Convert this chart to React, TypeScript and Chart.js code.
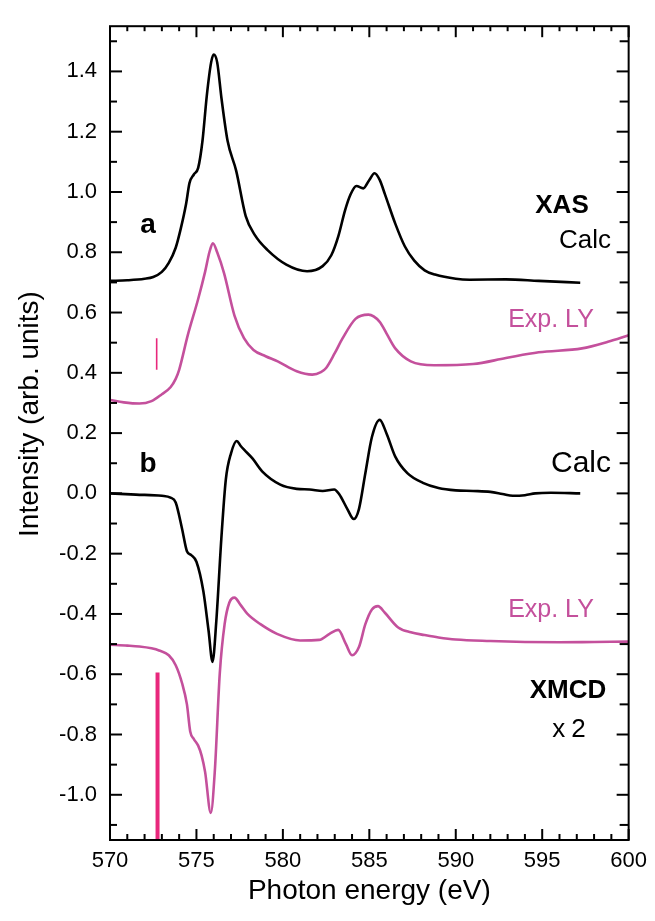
import React, { useEffect, useRef } from "react";
import { Chart, registerables } from "chart.js";

Chart.register(...registerables);

// ---------- data ----------
const xasCalcE = [570.0, 571.0, 572.0, 572.5, 573.0, 573.4, 573.8, 574.1, 574.4, 574.6, 574.85, 575.1, 575.35, 575.6, 575.85, 576.0, 576.2, 576.45, 576.8, 577.3, 577.85, 578.4, 579.1, 580.2, 581.4, 582.3, 582.8, 583.2, 583.6, 583.9, 584.25, 584.65, 585.0, 585.3, 585.6, 585.9, 586.5, 587.05, 587.6, 588.2, 588.8, 590.0, 590.8, 592.9, 594.8, 597.2];
const xasCalcI = [0.705, 0.707, 0.712, 0.718, 0.735, 0.765, 0.815, 0.88, 0.96, 1.03, 1.058, 1.08, 1.17, 1.32, 1.43, 1.456, 1.43, 1.31, 1.17, 1.07, 0.92, 0.855, 0.808, 0.759, 0.737, 0.754, 0.79, 0.852, 0.94, 0.99, 1.02, 1.012, 1.04, 1.062, 1.04, 0.993, 0.895, 0.82, 0.772, 0.74, 0.726, 0.712, 0.709, 0.71, 0.705, 0.699];

const xasExpE = [570.0, 570.8, 571.7, 572.4, 573.0, 573.5, 573.8, 574.0, 574.5, 575.1, 575.5, 575.75, 575.95, 576.2, 576.6, 577.2, 577.75, 578.3, 579.0, 579.7, 580.8, 581.7, 582.2, 582.5, 583.0, 583.45, 584.2, 584.95, 585.6, 586.0, 586.5, 587.4, 588.75, 591.0, 592.9, 594.8, 597.3, 598.8, 600.0];
const xasExpI = [0.31, 0.302, 0.298, 0.306, 0.329, 0.352, 0.38, 0.41, 0.525, 0.645, 0.735, 0.8, 0.83, 0.8, 0.73, 0.59, 0.515, 0.476, 0.455, 0.438, 0.405, 0.394, 0.402, 0.416, 0.465, 0.514, 0.579, 0.593, 0.569, 0.53, 0.481, 0.438, 0.425, 0.429, 0.449, 0.468, 0.481, 0.503, 0.525];

const xmcdCalcE = [570.0, 571.5, 573.0, 573.5, 573.8, 574.17, 574.45, 574.7, 575.0, 575.4, 575.7, 575.93, 576.15, 576.44, 576.7, 577.0, 577.33, 577.55, 577.77, 578.24, 578.8, 579.85, 580.8, 581.55, 582.3, 582.97, 583.26, 583.73, 584.1, 584.4, 584.77, 585.15, 585.6, 586.0, 586.5, 587.2, 588.1, 589.0, 590.0, 591.0, 592.0, 592.7, 593.3, 594.0, 594.6, 595.5, 597.2];
const xmcdCalcI = [0.0, -0.004, -0.008, -0.014, -0.03, -0.118, -0.192, -0.205, -0.227, -0.325, -0.455, -0.559, -0.423, -0.15, 0.046, 0.133, 0.174, 0.158, 0.144, 0.116, 0.073, 0.029, 0.015, 0.013, 0.008, 0.013, -0.003, -0.052, -0.085, -0.052, 0.067, 0.187, 0.244, 0.198, 0.122, 0.067, 0.035, 0.018, 0.01, 0.008, 0.005, -0.002, -0.008, -0.006, 0.0, 0.002, 0.0];

const xmcdExpE = [570.0, 571.0, 571.7, 572.4, 572.84, 573.4, 573.8, 574.17, 574.45, 574.64, 574.85, 575.1, 575.3, 575.5, 575.83, 576.06, 576.35, 576.63, 576.9, 577.2, 577.55, 577.95, 578.7, 579.66, 581.0, 582.1, 582.7, 583.2, 583.64, 584.0, 584.4, 584.77, 585.15, 585.5, 585.9, 586.67, 587.4, 588.2, 589.0, 590.0, 592.0, 594.0, 596.0, 598.0, 600.0];
const xmcdExpI = [-0.502, -0.505, -0.508, -0.514, -0.521, -0.537, -0.57, -0.63, -0.7, -0.79, -0.815, -0.837, -0.87, -0.924, -1.06, -0.924, -0.597, -0.434, -0.363, -0.346, -0.37, -0.4, -0.434, -0.466, -0.488, -0.486, -0.466, -0.453, -0.499, -0.537, -0.51, -0.434, -0.385, -0.374, -0.396, -0.445, -0.461, -0.47, -0.478, -0.485, -0.49, -0.493, -0.494, -0.493, -0.492];

const markSmallE = [572.7, 572.7];
const markSmallI = [0.41, 0.515];
const markBigE = [572.75, 572.75];
const markBigI = [-0.594, -1.15];

const xMajorTicks = [570, 575, 580, 585, 590, 595, 600];
const xMinorTicks = [571, 572, 573, 574, 576, 577, 578, 579, 581, 582, 583, 584, 586, 587, 588, 589, 591, 592, 593, 594, 596, 597, 598, 599];
const yMajorTicks = [-1.0, -0.8, -0.6, -0.4, -0.2, 0.0, 0.2, 0.4, 0.6, 0.8, 1.0, 1.2, 1.4];
const yMinorTicks = [-1.1, -0.9, -0.7, -0.5, -0.3, -0.1, 0.1, 0.3, 0.5, 0.7, 0.9, 1.1, 1.3, 1.5];

const xRange = [570, 600];
const yRange = [-1.15, 1.55];

const xTitle = "Photon energy (eV)";
const yTitle = "Intensity (arb. units)";

const FONT = "'Liberation Sans', Arial, Helvetica, sans-serif";
const BLACK = "#000000";
const PINK = "#c4509c";
const HOTPINK = "#e8287c";

const pts = (xs: number[], ys: number[]) => xs.map((x, i) => ({ x, y: ys[i] }));

const framePlugin = {
  id: "frameTicks",
  afterDraw(chart: any) {
    const { ctx, chartArea, scales } = chart;
    const { left, right, top, bottom } = chartArea;
    const xs = scales.x;
    const ys = scales.y;
    ctx.save();
    ctx.strokeStyle = BLACK;
    ctx.lineWidth = 2;
    ctx.lineCap = "butt";
    ctx.strokeRect(left, top, right - left, bottom - top);
    const seg = (x1: number, y1: number, x2: number, y2: number) => {
      ctx.beginPath();
      ctx.moveTo(x1, y1);
      ctx.lineTo(x2, y2);
      ctx.stroke();
    };
    xMajorTicks.forEach((v) => {
      const p = xs.getPixelForValue(v);
      seg(p, bottom, p, bottom - 11);
      seg(p, top, p, top + 11);
    });
    xMinorTicks.forEach((v) => {
      const p = xs.getPixelForValue(v);
      seg(p, bottom, p, bottom - 6);
      seg(p, top, p, top + 5);
    });
    yMajorTicks.forEach((v) => {
      const p = ys.getPixelForValue(v);
      seg(left, p, left + 12, p);
      seg(right, p, right - 12, p);
    });
    yMinorTicks.forEach((v) => {
      const p = ys.getPixelForValue(v);
      seg(left, p, left + 7, p);
      seg(right, p, right - 9, p);
    });

    // axis titles
    ctx.fillStyle = BLACK;
    ctx.font = `28px ${FONT}`;
    ctx.textAlign = "center";
    ctx.textBaseline = "alphabetic";
    ctx.fillText(xTitle, (left + right) / 2, 899);
    ctx.save();
    ctx.translate(38, 414);
    ctx.rotate(-Math.PI / 2);
    ctx.fillText(yTitle, 0, 0);
    ctx.restore();

    // annotations
    const txt = (s: string, x: number, y: number, font: string, color: string) => {
      ctx.font = font;
      ctx.fillStyle = color;
      ctx.textAlign = "center";
      ctx.fillText(s, x, y);
    };
    txt("a", 148, 233, `bold 28px ${FONT}`, BLACK);
    txt("b", 148, 472, `bold 28px ${FONT}`, BLACK);
    txt("XAS", 562, 213, `bold 26px ${FONT}`, BLACK);
    txt("Calc", 585, 248, `26px ${FONT}`, BLACK);
    txt("Exp. LY", 551, 327, `25px ${FONT}`, PINK);
    txt("Calc", 581, 472, `30px ${FONT}`, BLACK);
    txt("Exp. LY", 551, 617, `25px ${FONT}`, PINK);
    txt("XMCD", 568, 698, `bold 26px ${FONT}`, BLACK);
    ctx.font = `26px ${FONT}`;
    ctx.fillStyle = BLACK;
    (ctx as any).letterSpacing = "6px";
    ctx.textAlign = "center";
    ctx.fillText("x2", 572, 737);
    (ctx as any).letterSpacing = "0px";
    ctx.restore();
  },
};

export default function App() {
  const ref = useRef<HTMLCanvasElement | null>(null);
  useEffect(() => {
    if (!ref.current) return;
    const line = (data: any[], color: string, width: number, smooth: boolean) => ({
      data,
      borderColor: color,
      borderWidth: width,
      pointRadius: 0,
      fill: false,
      tension: 0,
      cubicInterpolationMode: smooth ? ("monotone" as const) : ("default" as const),
    });
    const chart = new Chart(ref.current, {
      type: "line",
      data: {
        datasets: [
          line(pts(xasCalcE, xasCalcI), BLACK, 2.6, true),
          line(pts(xasExpE, xasExpI), PINK, 2.6, true),
          line(pts(xmcdCalcE, xmcdCalcI), BLACK, 2.6, true),
          line(pts(xmcdExpE, xmcdExpI), PINK, 2.6, true),
          line(pts(markSmallE, markSmallI), HOTPINK, 1.6, false),
          line(pts(markBigE, markBigI), HOTPINK, 4, false),
        ],
      },
      options: {
        animation: false,
        responsive: false,
        maintainAspectRatio: false,
        layout: { padding: { top: 13, right: 19, left: 0, bottom: 0 } },
        plugins: { legend: { display: false }, tooltip: { enabled: false } },
        scales: {
          x: {
            type: "linear",
            min: xRange[0],
            max: xRange[1],
            grid: { display: false, drawTicks: false },
            border: { display: false },
            ticks: {
              padding: 8,
              color: BLACK,
              font: { size: 22, family: FONT },
              maxRotation: 0,
              callback: (v: any) => String(v),
            },
            afterBuildTicks: (s: any) => {
              s.ticks = xMajorTicks.map((v) => ({ value: v }));
            },
            afterFit: (s: any) => {
              s.height = 81;
            },
          },
          y: {
            type: "linear",
            min: yRange[0],
            max: yRange[1],
            grid: { display: false, drawTicks: false },
            border: { display: false },
            ticks: {
              padding: 13,
              color: BLACK,
              font: { size: 22, family: FONT },
              callback: (v: any) => Number(v).toFixed(1),
            },
            afterBuildTicks: (s: any) => {
              s.ticks = yMajorTicks.map((v) => ({ value: v }));
            },
            afterFit: (s: any) => {
              s.width = 110;
            },
          },
        },
      },
      plugins: [framePlugin],
    });
    return () => chart.destroy();
  }, []);
  return (
    <div style={{ position: "absolute", left: 0, top: 0, width: 655, height: 921, background: "#fff" }}>
      <canvas ref={ref} width={655} height={921} style={{ display: "block" }} />
    </div>
  );
}
